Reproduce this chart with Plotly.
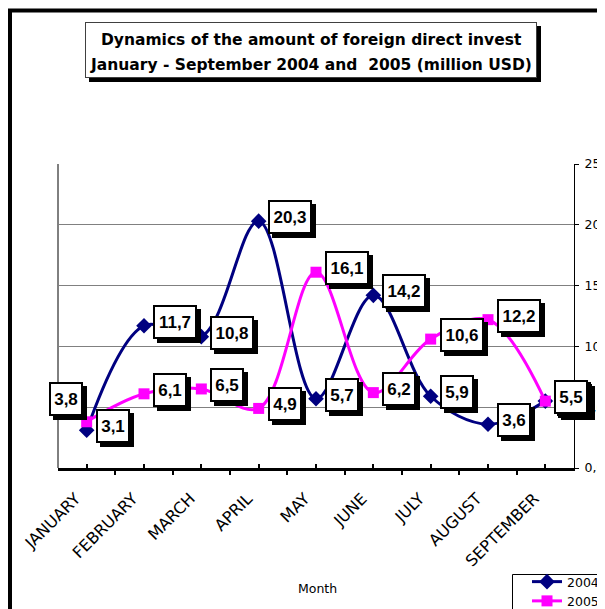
import plotly.graph_objects as go

months = ["JANUARY", "FEBRUARY", "MARCH", "APRIL", "MAY", "JUNE", "JULY", "AUGUST", "SEPTEMBER"]
v2004 = [3.1, 11.7, 10.8, 20.3, 5.7, 14.2, 5.9, 3.6, 5.5]
v2005 = [3.8, 6.1, 6.5, 4.9, 16.1, 6.2, 10.6, 12.2, 5.5]
ytick_vals = [0, 5, 10, 15, 20, 25]
ytick_text = ["0,0", "5,0", "10,0", "15,0", "20,0", "25,0"]
title_lines = ["Dynamics of the amount of foreign direct invest",
               "January - September 2004 and \u00a02005 (million USD)"]

LAB_FONT = "Liberation Sans, Arial, sans-serif"
TXT_FONT = "DejaVu Sans, Verdana, sans-serif"
NAVY = "#000080"
MAGENTA = "#FF00FF"

# page body has an 8px margin: figure is shifted by OFF
OFF = 8
W, H = 605 - OFF, 609 - OFF
L, T = 58 - OFF, 164 - OFF
PLOT_R, PLOT_B = 574 - OFF, 468 - OFF
R, B = W - PLOT_R, H - PLOT_B
PW = PLOT_R - L
PH = PLOT_B - T


def px_x(p):  # reference-pixel x -> paper
    return (p - OFF - L) / PW


def px_y(p):  # reference-pixel y -> paper
    return (PLOT_B - (p - OFF)) / PH


xs = list(range(len(months)))

fig = go.Figure()
fig.add_trace(go.Scatter(
    x=xs, y=v2004, name="2004", mode="lines+markers",
    line=dict(color=NAVY, width=3, shape="spline", smoothing=1),
    marker=dict(symbol="diamond", size=12, color=NAVY),
))
fig.add_trace(go.Scatter(
    x=xs, y=v2005, name="2005", mode="lines+markers",
    line=dict(color=MAGENTA, width=3, shape="spline", smoothing=1),
    marker=dict(symbol="square", size=11, color=MAGENTA),
))

annotations = []


def add_box(text, x, y, xref, yref, xanchor, yanchor, xshift, yshift, font,
            size, width, height, pad, bw, bcolor, sh=4):
    common = dict(x=x, y=y, xref=xref, yref=yref, xanchor=xanchor, yanchor=yanchor,
                  showarrow=False, width=width, height=height,
                  borderwidth=bw, borderpad=pad, align="center", valign="middle")
    # shadow
    annotations.append(dict(
        text=" ", xshift=xshift + sh, yshift=yshift - sh,
        font=dict(family=font, size=size, color="black"),
        bgcolor="black", bordercolor="black", **common))
    annotations.append(dict(
        text=text, xshift=xshift, yshift=yshift,
        font=dict(family=font, size=size, color="black"),
        bgcolor="white", bordercolor=bcolor, **common))


def fmt(v):
    return f"{v:.1f}".replace(".", ",")


def lab_w(s):
    return 24 if len(s) <= 3 else 34


# label offsets (style only)
offs2004 = {8: (12, 2, "left")}
offs2005 = {0: (-4, 23, "right")}

for i, v in enumerate(v2004):
    dx, dy, anc = offs2004.get(i, (9, 4, "left"))
    s = fmt(v)
    add_box("<b>" + s + "</b>", i, v, "x", "y", anc, "middle", dx, dy, LAB_FONT, 17,
            lab_w(s), 24, 3, 2, "black")
for i, v in enumerate(v2005):
    dx, dy, anc = offs2005.get(i, (9, 4, "left"))
    s = fmt(v)
    add_box("<b>" + s + "</b>", i, v, "x", "y", anc, "middle", dx, dy, LAB_FONT, 17,
            lab_w(s), 24, 3, 2, "black")

# title box (frame + shadow), then its two lines
add_box(" ", px_x(311), px_y(22), "paper", "paper", "center", "top", 0, 0, TXT_FONT, 15.5,
        444, 48, 3, 1, "#404040")
for k, (line, ypix) in enumerate(zip(title_lines, [40, 65])):
    annotations.append(dict(
        text="<b>" + line + "</b>", x=px_x(311), y=px_y(ypix), xref="paper", yref="paper",
        xanchor="center", yanchor="middle", showarrow=False,
        font=dict(family=TXT_FONT, size=15.5, color="black"),
    ))

# axis title
annotations.append(dict(
    text="Month", x=px_x(317), y=px_y(588), xref="paper", yref="paper",
    xanchor="center", yanchor="middle", showarrow=False,
    font=dict(family=TXT_FONT, size=12.5, color="black"),
))

shapes = [
    # outer frame (cropped on right/bottom)
    dict(type="rect", xref="paper", yref="paper",
         x0=px_x(10), x1=px_x(650), y0=px_y(660), y1=px_y(10.5),
         line=dict(color="black", width=4), fillcolor="rgba(0,0,0,0)", layer="below"),
    # left plot border
    dict(type="line", xref="paper", yref="paper", x0=0, x1=0, y0=0, y1=1,
         line=dict(color="black", width=1), layer="below"),
    # legend frame
    dict(type="rect", xref="paper", yref="paper",
         x0=px_x(512.5), x1=px_x(640), y0=px_y(660), y1=px_y(574.5),
         line=dict(color="black", width=1), fillcolor="white", layer="below"),
]

fig.update_layout(
    width=W, height=H,
    margin=dict(l=L, r=R, t=T, b=B, autoexpand=False),
    paper_bgcolor="white", plot_bgcolor="white",
    font=dict(family=TXT_FONT, size=12.5, color="black"),
    showlegend=True,
    legend=dict(
        x=px_x(527), y=px_y(567), xanchor="left", yanchor="top",
        borderwidth=0, bgcolor="rgba(0,0,0,0)",
        font=dict(family=TXT_FONT, size=12.5, color="black"),
        tracegroupgap=0,
    ),
    annotations=annotations,
    shapes=shapes,
    xaxis=dict(
        range=[-0.5, 8.5], tickmode="array", tickvals=xs, ticktext=months,
        tickangle=-45, ticks="inside", ticklen=4, tickwidth=2, tickcolor="black",
        ticklabelstandoff=12, ticklabelshift=-11,
        minor=dict(tickmode="array", tickvals=[i - 0.5 for i in range(len(months) + 1)],
                   ticks="outside", ticklen=4, tickwidth=2, tickcolor="black", showgrid=False),
        showline=True, linecolor="black", linewidth=3,
        showgrid=False, zeroline=False, automargin=False,
        tickfont=dict(family=TXT_FONT, size=16, color="black"),
    ),
    yaxis=dict(
        range=[0, 25], side="right", tickmode="array", tickvals=ytick_vals, ticktext=ytick_text,
        ticks="outside", ticklen=4, tickcolor="black", ticklabelstandoff=3,
        showline=True, linecolor="black", linewidth=1,
        showgrid=True, gridcolor="#808080", gridwidth=1, zeroline=False, automargin=False,
        tickfont=dict(family=TXT_FONT, size=12.5, color="black"),
    ),
)

fig.write_html("out.html")
